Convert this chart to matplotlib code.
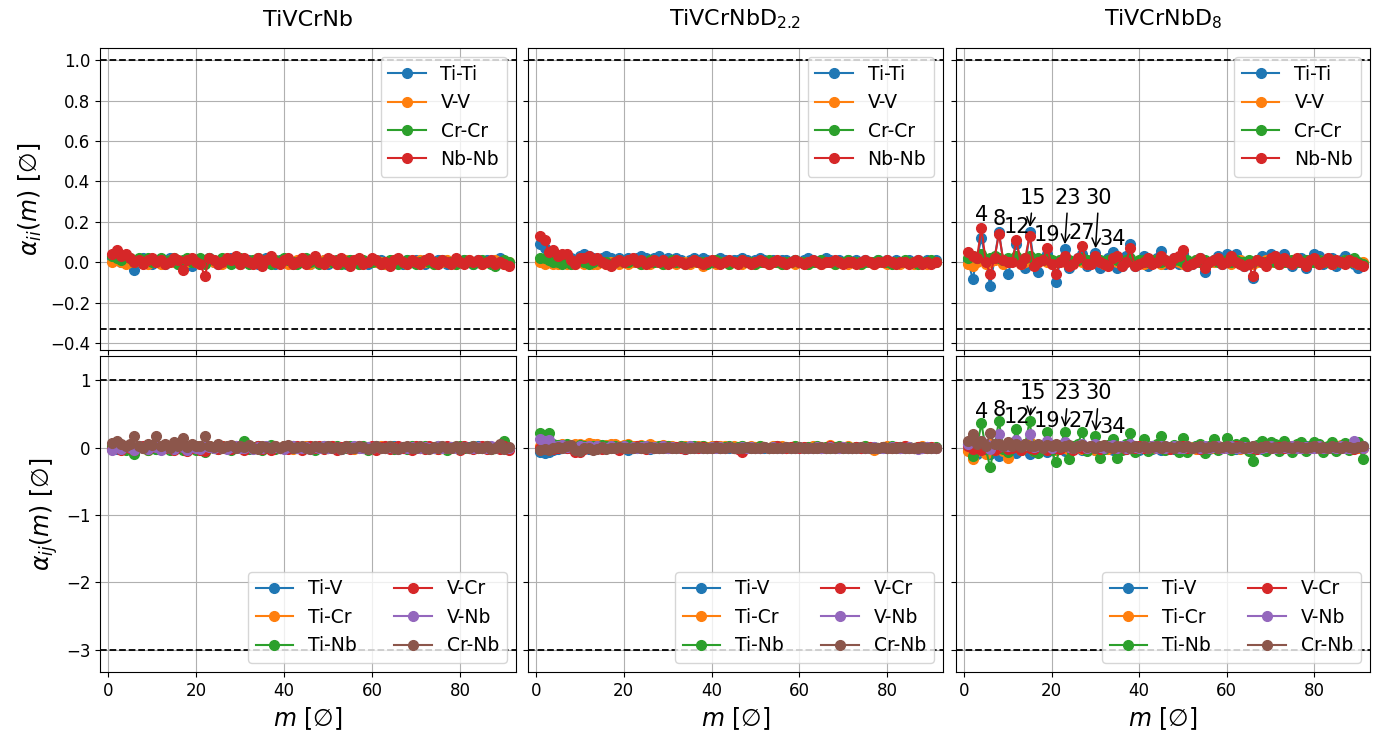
import matplotlib
matplotlib.use("Agg")
import matplotlib.pyplot as plt

# ---------------- data ----------------
m = list(range(1, 92))

titles = ["TiVCrNb", "TiVCrNbD$_{2.2}$", "TiVCrNbD$_{8}$"]
self_labels = ["Ti-Ti", "V-V", "Cr-Cr", "Nb-Nb"]
pair_labels = ["Ti-V", "Ti-Cr", "Ti-Nb", "V-Cr", "V-Nb", "Cr-Nb"]

# ---- TiVCrNb, alpha_ii ----
A_TiTi = [0.02, 0.01, 0.00, 0.01, 0.01, -0.04, 0.01, 0.02, 0.00, -0.01,
          0.01, 0.00, -0.01, 0.02, 0.01, -0.01, 0.00, 0.01, -0.02, 0.01,
          0.00, 0.01, 0.02, 0.00, -0.01, 0.01, 0.00, 0.02, 0.01, -0.01,
          0.00, 0.01, 0.00, -0.01, 0.01, 0.02, 0.00, -0.01, 0.01, 0.00,
          0.01, -0.01, 0.00, 0.01, 0.00, -0.01, 0.01, 0.00, 0.01, -0.01,
          0.00, 0.01, 0.00, -0.01, 0.01, 0.00, 0.01, 0.00, -0.01, 0.01,
          0.00, 0.01, -0.01, 0.00, 0.01, 0.00, -0.01, 0.01, 0.00, 0.01,
          0.00, -0.01, 0.01, 0.00, 0.01, 0.00, -0.01, 0.00, 0.01, 0.00,
          0.01, 0.00, -0.01, 0.01, 0.00, 0.01, 0.00, 0.01, 0.02, 0.00,
          -0.01]
A_VV = [0.00, 0.01, 0.00, -0.01, 0.00, 0.00, 0.01, 0.00, -0.01, 0.00,
        0.00, -0.01, 0.00, 0.01, 0.00, 0.00, -0.01, 0.00, 0.01, 0.00,
        -0.01, 0.00, 0.01, 0.00, 0.00, -0.01, 0.00, 0.01, 0.00, -0.01,
        0.00, 0.00, 0.01, 0.00, -0.01, 0.00, 0.00, 0.01, 0.00, 0.00,
        -0.01, 0.00, 0.01, 0.00, 0.00, -0.01, 0.00, 0.00, 0.01, 0.00,
        0.00, -0.01, 0.00, 0.01, 0.00, 0.00, -0.01, 0.00, 0.00, 0.01,
        0.00, 0.00, -0.01, 0.00, 0.01, 0.00, 0.00, -0.01, 0.00, 0.00,
        0.01, 0.00, 0.00, -0.01, 0.00, 0.00, 0.01, 0.00, -0.01, 0.00,
        0.00, 0.01, 0.00, 0.00, -0.01, 0.00, 0.00, 0.01, 0.00, -0.01,
        0.00]
A_CrCr = [0.03, 0.02, 0.01, 0.03, 0.02, 0.00, 0.02, 0.01, 0.02, 0.00,
          0.01, 0.02, 0.00, 0.01, 0.02, -0.01, 0.01, 0.02, 0.00, 0.01,
          0.02, -0.01, 0.02, 0.01, 0.00, 0.02, 0.01, -0.01, 0.01, 0.02,
          0.00, -0.01, 0.01, 0.02, 0.00, 0.01, -0.01, 0.01, 0.00, 0.02,
          0.01, 0.00, -0.01, 0.01, 0.02, 0.00, 0.01, -0.01, 0.00, 0.01,
          0.00, 0.01, -0.01, 0.00, 0.01, 0.00, -0.01, 0.01, 0.00, 0.00,
          0.01, -0.01, 0.00, 0.01, 0.00, -0.01, 0.00, 0.01, 0.00, -0.01,
          0.00, 0.01, 0.00, -0.01, 0.00, 0.01, 0.00, 0.00, -0.01, 0.00,
          0.01, 0.00, -0.01, 0.00, 0.01, 0.00, -0.01, -0.02, 0.00, 0.01,
          0.00]
A_NbNb = [0.04, 0.06, 0.03, 0.04, 0.02, 0.00, 0.01, -0.01, 0.01, 0.02,
          0.00, 0.01, -0.01, 0.00, 0.02, 0.01, -0.04, 0.01, 0.02, 0.00,
          -0.01, -0.07, 0.02, 0.01, -0.01, 0.00, 0.02, 0.01, 0.03, -0.01,
          0.02, 0.00, -0.01, 0.02, -0.02, 0.01, 0.03, 0.00, -0.01, 0.01,
          0.02, -0.01, 0.00, 0.02, -0.01, 0.01, 0.03, 0.00, -0.01, 0.02,
          0.01, -0.01, 0.02, 0.00, -0.02, 0.01, 0.02, -0.01, 0.00, 0.02,
          0.01, -0.01, 0.00, -0.02, 0.01, 0.02, 0.00, -0.01, 0.01, 0.00,
          -0.01, 0.01, 0.02, 0.00, -0.01, 0.01, 0.00, -0.01, 0.02, 0.00,
          -0.01, 0.01, 0.00, 0.01, -0.01, 0.00, 0.01, -0.01, 0.00, -0.01,
          -0.02]

# ---- TiVCrNbD2.2, alpha_ii ----
B_TiTi = [0.09, 0.07, 0.04, 0.03, 0.03, 0.02, 0.03, 0.02, 0.01, 0.03,
          0.04, 0.03, 0.02, 0.01, 0.02, 0.03, 0.02, 0.01, 0.02, 0.01,
          0.02, 0.01, 0.02, 0.03, 0.02, 0.01, 0.02, 0.03, 0.01, 0.02,
          0.01, 0.02, 0.01, 0.00, 0.01, 0.02, 0.01, 0.02, 0.01, 0.00,
          0.01, 0.02, 0.01, 0.00, 0.01, 0.01, 0.02, 0.01, 0.00, 0.01,
          0.02, 0.01, 0.00, 0.01, 0.00, 0.01, 0.01, 0.00, 0.01, 0.00,
          0.01, 0.02, 0.01, 0.00, 0.01, 0.02, 0.01, 0.00, 0.01, 0.00,
          0.01, 0.00, 0.01, 0.00, 0.01, 0.00, 0.00, 0.01, 0.00, 0.01,
          0.00, 0.01, 0.00, 0.00, 0.01, 0.00, 0.01, 0.00, 0.01, 0.00,
          0.01]
B_VV = [0.00, -0.01, 0.00, -0.01, -0.01, 0.00, -0.01, 0.00, -0.01, 0.00,
        -0.01, 0.00, -0.01, -0.01, 0.00, -0.01, 0.00, 0.00, -0.01, 0.00,
        -0.01, 0.00, 0.00, -0.01, 0.00, -0.01, 0.00, 0.00, -0.01, 0.00,
        0.00, -0.01, 0.00, 0.00, -0.01, 0.00, 0.00, -0.02, 0.00, 0.00,
        -0.01, 0.00, 0.00, -0.01, 0.00, 0.00, -0.01, 0.00, 0.00, -0.01,
        0.00, 0.00, -0.01, 0.00, 0.00, -0.01, 0.00, 0.00, -0.01, 0.00,
        0.00, -0.01, 0.00, 0.00, -0.01, 0.00, 0.00, -0.01, 0.00, 0.00,
        -0.01, 0.00, 0.00, -0.01, 0.00, 0.00, -0.01, 0.00, 0.00, -0.01,
        0.00, 0.00, -0.01, 0.00, 0.00, -0.01, 0.00, 0.00, -0.01, 0.00,
        0.00]
B_CrCr = [0.02, 0.02, 0.01, 0.00, 0.00, -0.01, 0.00, -0.01, 0.00, 0.01,
          0.00, -0.01, 0.00, 0.01, 0.00, 0.00, -0.01, 0.00, 0.01, 0.00,
          0.00, 0.01, 0.00, -0.01, 0.00, 0.01, 0.00, 0.00, -0.01, 0.00,
          0.01, 0.00, 0.00, -0.01, 0.00, 0.01, 0.00, 0.00, -0.01, 0.00,
          0.01, 0.00, 0.00, -0.01, 0.00, 0.00, 0.01, 0.00, 0.00, -0.01,
          0.00, 0.00, 0.01, 0.00, 0.00, -0.01, 0.00, 0.00, 0.01, 0.00,
          0.00, -0.01, 0.00, 0.00, 0.01, 0.00, 0.00, -0.01, 0.00, 0.00,
          0.01, 0.00, 0.00, -0.01, 0.00, 0.00, 0.00, 0.01, 0.00, 0.00,
          -0.01, 0.00, 0.00, 0.01, 0.00, 0.00, -0.01, 0.00, 0.00, 0.01,
          0.00]
B_NbNb = [0.13, 0.11, 0.05, 0.06, 0.03, 0.04, 0.04, 0.01, -0.01, 0.02,
          0.02, 0.03, 0.01, 0.02, 0.00, -0.01, -0.02, 0.00, 0.01, 0.00,
          0.01, 0.02, 0.00, 0.01, -0.01, 0.00, 0.01, 0.00, 0.01, -0.01,
          0.00, 0.01, 0.00, -0.01, 0.00, 0.01, 0.00, -0.01, 0.00, 0.01,
          0.00, -0.01, 0.00, 0.01, 0.00, -0.01, 0.01, 0.00, -0.01, 0.00,
          0.01, 0.00, -0.01, 0.00, 0.01, 0.00, -0.01, 0.00, 0.01, 0.00,
          -0.01, 0.00, 0.01, 0.00, -0.01, 0.00, 0.00, 0.01, 0.00, -0.01,
          0.00, 0.00, -0.01, 0.00, 0.01, 0.00, -0.01, 0.00, 0.00, 0.01,
          0.00, -0.01, 0.00, 0.00, -0.01, 0.00, 0.01, -0.01, 0.00, -0.01,
          0.00]

# ---- TiVCrNbD8, alpha_ii ----
C_TiTi = [0.01, -0.085, 0.02, 0.12, 0.01, -0.12, 0.02, 0.15, 0.00, -0.06,
          0.01, 0.09, 0.01, -0.03, 0.15, 0.00, -0.05, 0.01, 0.04, 0.00,
          -0.10, 0.01, 0.065, -0.03, 0.00, 0.02, 0.04, -0.02, 0.01, 0.045,
          -0.03, -0.01, 0.02, 0.05, -0.03, -0.02, 0.03, 0.09, -0.02, 0.00,
          0.03, -0.02, 0.00, 0.02, 0.055, -0.01, 0.00, 0.02, -0.01, 0.04,
          -0.02, -0.01, 0.01, 0.02, -0.05, 0.00, 0.01, 0.03, -0.01, 0.04,
          0.00, 0.04, 0.01, -0.02, 0.00, -0.08, 0.01, 0.03, -0.01, 0.04,
          0.03, -0.01, 0.04, 0.01, -0.02, 0.00, 0.02, -0.03, 0.01, 0.04,
          0.03, -0.01, 0.01, 0.02, -0.02, 0.01, 0.03, 0.00, -0.01, -0.03,
          -0.01]
C_VV = [-0.01, -0.02, 0.00, 0.02, -0.01, 0.00, 0.01, 0.02, -0.01, 0.00,
        0.01, 0.01, -0.01, 0.00, 0.02, -0.01, 0.00, 0.01, 0.00, -0.01,
        0.00, 0.01, 0.00, -0.01, 0.00, 0.01, 0.00, -0.01, 0.00, 0.01,
        0.00, -0.01, 0.00, 0.01, 0.00, -0.01, 0.00, 0.01, 0.00, 0.00,
        -0.01, 0.00, 0.01, 0.00, -0.01, 0.00, 0.00, 0.01, 0.00, -0.01,
        0.00, 0.00, 0.01, 0.00, -0.01, 0.00, 0.00, 0.01, 0.00, 0.00,
        -0.01, 0.00, 0.01, 0.00, 0.00, -0.01, 0.00, 0.00, 0.01, 0.00,
        0.00, -0.01, 0.00, 0.00, 0.01, 0.00, 0.00, -0.01, 0.00, 0.00,
        0.01, 0.00, 0.00, -0.01, 0.00, 0.00, 0.01, 0.00, 0.00, -0.01,
        0.00]
C_CrCr = [0.02, 0.03, 0.02, 0.04, 0.01, 0.02, 0.03, 0.02, 0.01, 0.02,
          0.01, 0.03, 0.01, 0.02, 0.03, 0.01, 0.02, 0.01, 0.02, 0.01,
          0.00, 0.01, 0.02, 0.01, 0.00, 0.01, 0.02, 0.01, 0.00, 0.01,
          0.01, 0.00, 0.01, 0.02, 0.01, 0.00, 0.01, 0.02, 0.00, 0.01,
          0.01, 0.00, 0.01, 0.01, 0.00, 0.01, 0.00, 0.01, 0.01, 0.00,
          0.01, 0.00, 0.01, 0.00, 0.01, 0.00, 0.01, 0.00, 0.00, 0.01,
          0.00, 0.01, 0.00, 0.00, 0.01, 0.00, 0.01, 0.00, 0.00, 0.01,
          0.00, 0.01, 0.00, 0.00, 0.01, 0.00, 0.00, 0.01, 0.00, 0.00,
          0.01, 0.00, 0.00, 0.01, 0.00, 0.00, 0.01, 0.00, 0.02, 0.00,
          -0.01]
C_NbNb = [0.05, 0.03, 0.02, 0.17, 0.00, -0.06, 0.02, 0.14, 0.01, 0.00,
          0.00, 0.11, -0.01, 0.02, 0.13, -0.02, 0.00, 0.01, 0.07, -0.01,
          -0.06, 0.00, 0.03, -0.02, -0.01, 0.02, 0.08, -0.01, -0.01, 0.03,
          0.00, -0.01, -0.02, 0.02, 0.03, -0.02, 0.00, 0.07, -0.02, -0.01,
          0.00, 0.02, -0.01, 0.00, 0.03, 0.01, -0.01, 0.02, 0.03, 0.06,
          -0.02, -0.01, 0.00, 0.02, -0.03, 0.00, 0.01, 0.02, -0.01, 0.00,
          0.03, 0.00, -0.01, -0.02, -0.01, -0.07, 0.01, 0.00, -0.02, 0.02,
          0.03, -0.01, 0.02, 0.00, -0.01, 0.02, 0.00, -0.02, 0.01, 0.02,
          -0.01, 0.00, 0.02, -0.01, 0.01, 0.00, -0.01, 0.01, 0.00, -0.01,
          -0.02]

# ---- TiVCrNb, alpha_ij ----
A_TiV = [0.00, -0.02, 0.01, 0.02, -0.01, 0.00, 0.02, -0.01, 0.01, 0.00,
         -0.02, 0.01, 0.00, 0.02, -0.01, 0.00, 0.01, -0.02, 0.00, 0.01,
         -0.01, 0.00, 0.02, 0.00, -0.01, 0.01, 0.00, -0.02, 0.01, 0.00,
         0.01, -0.01, 0.00, 0.02, 0.00, -0.01, 0.01, 0.00, -0.01, 0.01,
         0.00, 0.02, -0.01, 0.00, 0.01, -0.01, 0.00, 0.01, 0.00, -0.01,
         0.01, 0.00, -0.02, 0.01, 0.00, 0.01, -0.01, 0.00, 0.01, 0.00,
         -0.01, 0.01, 0.00, -0.01, 0.02, 0.00, -0.01, 0.01, 0.00, -0.01,
         0.01, 0.00, 0.01, -0.01, 0.00, 0.01, 0.00, -0.01, 0.01, 0.00,
         -0.01, 0.01, 0.00, 0.02, -0.01, 0.00, 0.01, -0.01, 0.00, 0.03,
         0.00]
A_TiCr = [-0.02, 0.01, -0.01, 0.03, 0.00, -0.02, 0.02, 0.00, -0.03, 0.01,
          0.02, -0.01, 0.00, 0.03, -0.02, 0.01, 0.00, -0.03, 0.02, 0.00,
          -0.01, -0.04, 0.02, 0.00, -0.01, 0.02, 0.00, -0.02, 0.01, 0.00,
          0.02, -0.01, 0.00, 0.01, -0.02, 0.00, 0.02, 0.00, -0.01, 0.01,
          0.00, -0.02, 0.01, 0.00, 0.02, -0.01, 0.00, 0.01, -0.01, 0.00,
          0.02, 0.00, -0.01, 0.01, 0.00, -0.02, 0.01, 0.00, 0.01, -0.01,
          0.00, 0.02, 0.00, -0.01, 0.01, 0.00, -0.01, 0.01, 0.00, 0.01,
          -0.01, 0.00, 0.01, 0.00, -0.02, 0.01, 0.00, 0.01, -0.01, 0.00,
          0.01, 0.00, -0.01, 0.01, 0.00, -0.01, 0.01, 0.00, 0.01, -0.01,
          0.00]
A_TiNb = [0.03, 0.02, -0.02, -0.03, 0.02, -0.10, 0.03, 0.01, -0.03, 0.02,
          -0.02, 0.01, 0.03, -0.04, 0.02, 0.00, -0.03, 0.02, 0.01, -0.04,
          0.02, -0.06, 0.03, 0.00, -0.02, 0.02, 0.01, -0.03, 0.02, 0.00,
          0.10, -0.02, 0.01, 0.02, -0.03, 0.01, 0.04, -0.02, 0.00, 0.02,
          -0.01, 0.03, 0.00, -0.02, 0.01, 0.03, -0.03, 0.00, 0.02, -0.01,
          0.01, 0.03, -0.02, 0.00, 0.02, -0.01, 0.01, 0.02, -0.03, 0.00,
          0.02, -0.01, 0.01, 0.02, -0.02, 0.00, 0.01, -0.02, 0.02, 0.00,
          -0.01, 0.02, 0.00, -0.01, 0.02, 0.00, -0.03, 0.01, 0.00, 0.02,
          -0.01, 0.00, 0.02, -0.01, 0.00, 0.02, -0.02, 0.00, 0.01, 0.10,
          -0.01]
A_VCr = [-0.02, 0.03, -0.04, 0.02, 0.00, -0.03, 0.02, 0.03, -0.02, 0.01,
         0.03, -0.02, 0.00, 0.02, -0.03, 0.01, 0.03, -0.05, 0.00, 0.02,
         -0.03, -0.05, 0.02, 0.01, -0.02, 0.03, 0.00, -0.02, 0.02, 0.01,
         -0.03, 0.02, 0.00, 0.03, -0.02, 0.01, -0.03, 0.02, 0.00, 0.03,
         -0.02, 0.01, 0.02, -0.03, 0.00, 0.02, -0.01, 0.03, -0.02, 0.00,
         0.02, -0.03, 0.01, 0.02, -0.02, 0.00, 0.03, -0.01, 0.00, 0.02,
         -0.03, 0.01, 0.02, -0.02, 0.00, 0.02, -0.01, 0.01, -0.03, 0.02,
         0.00, -0.02, 0.02, 0.01, -0.02, 0.00, 0.02, -0.01, 0.01, -0.03,
         0.02, 0.00, -0.02, 0.01, 0.02, -0.02, 0.00, 0.01, -0.02, 0.02,
         -0.03]
A_VNb = [-0.03, 0.04, -0.02, 0.03, 0.01, -0.04, 0.03, 0.00, -0.02, 0.03,
         0.01, -0.03, 0.02, 0.00, -0.02, 0.03, 0.01, -0.03, 0.02, 0.00,
         -0.02, 0.02, 0.01, -0.01, 0.02, 0.00, -0.02, 0.01, 0.02, -0.01,
         0.00, 0.02, -0.02, 0.01, 0.00, 0.02, -0.01, 0.01, 0.00, -0.02,
         0.01, 0.02, -0.01, 0.00, 0.01, -0.02, 0.01, 0.00, 0.02, -0.01,
         0.00, 0.01, -0.02, 0.01, 0.00, 0.02, -0.01, 0.00, 0.01, -0.01,
         0.02, 0.00, -0.01, 0.01, 0.00, -0.02, 0.01, 0.00, 0.01, -0.01,
         0.00, 0.01, 0.00, -0.01, 0.02, 0.00, -0.01, 0.01, 0.00, -0.01,
         0.01, 0.00, -0.01, 0.01, 0.00, -0.01, 0.02, 0.00, 0.04, -0.01,
         0.00]
A_CrNb = [0.07, 0.10, 0.06, 0.02, 0.06, 0.18, 0.03, 0.00, 0.05, 0.04,
          0.17, 0.02, 0.06, -0.01, 0.08, 0.03, 0.15, 0.01, 0.05, 0.03,
          0.02, 0.18, 0.02, 0.01, 0.05, 0.00, 0.03, 0.04, -0.01, 0.03,
          0.01, 0.04, 0.00, -0.02, 0.03, 0.01, -0.01, 0.03, 0.00, 0.02,
          0.04, -0.01, 0.01, 0.03, 0.00, -0.02, 0.02, 0.01, -0.01, 0.03,
          0.00, 0.01, -0.02, 0.02, 0.00, -0.01, 0.03, 0.01, -0.02, 0.00,
          0.02, -0.01, 0.00, 0.03, 0.00, -0.02, 0.01, 0.02, -0.01, 0.00,
          0.02, 0.00, -0.02, 0.01, 0.00, 0.02, -0.01, 0.00, 0.02, -0.02,
          0.01, 0.00, 0.02, -0.01, 0.00, 0.03, -0.02, 0.00, 0.05, -0.02,
          0.01]

# ---- TiVCrNbD2.2, alpha_ij ----
B_TiV = [-0.07, -0.08, -0.06, -0.03, -0.02, 0.00, -0.01, 0.02, -0.02, 0.00,
         0.01, -0.02, 0.00, 0.01, -0.01, 0.00, 0.01, -0.01, -0.02, 0.00,
         -0.04, 0.00, 0.01, -0.01, 0.00, -0.02, 0.01, 0.00, -0.01, 0.00,
         0.01, -0.01, 0.00, -0.02, 0.00, 0.01, -0.01, 0.00, 0.00, -0.01,
         0.01, 0.00, -0.01, 0.00, 0.01, -0.01, 0.00, 0.00, -0.01, 0.01,
         0.00, -0.01, 0.00, 0.01, -0.01, 0.00, 0.00, -0.01, 0.01, 0.00,
         -0.01, 0.00, 0.01, -0.01, 0.00, 0.00, -0.01, 0.00, 0.01, 0.00,
         -0.01, 0.00, 0.00, -0.01, 0.01, 0.00, -0.01, 0.00, 0.00, -0.01,
         0.00, 0.01, 0.00, -0.01, 0.00, 0.00, -0.01, 0.00, 0.01, 0.00,
         -0.01]
B_TiCr = [0.02, 0.03, 0.02, 0.04, 0.04, 0.05, 0.04, 0.03, 0.05, 0.06,
          0.04, 0.07, 0.06, 0.05, 0.03, 0.04, 0.06, 0.05, 0.03, 0.04,
          0.05, 0.03, 0.02, 0.04, 0.03, 0.05, 0.02, 0.03, 0.04, 0.02,
          0.03, 0.01, 0.02, 0.03, 0.02, 0.01, 0.02, 0.03, 0.01, 0.02,
          0.01, 0.02, 0.03, 0.01, 0.02, 0.01, 0.02, 0.00, 0.02, 0.01,
          0.02, 0.01, 0.00, 0.02, 0.01, 0.02, 0.00, 0.01, 0.02, 0.01,
          0.00, 0.01, 0.02, 0.01, 0.00, 0.01, 0.04, 0.01, 0.00, 0.01,
          0.02, 0.00, 0.01, 0.00, 0.02, 0.01, -0.04, 0.00, 0.01, 0.02,
          0.00, 0.01, 0.00, 0.02, 0.01, 0.00, 0.01, 0.02, 0.00, 0.01,
          0.00]
B_TiNb = [0.22, 0.18, 0.22, 0.05, 0.04, 0.02, 0.06, 0.03, 0.01, 0.04,
          0.02, 0.00, 0.03, 0.01, 0.04, 0.02, 0.00, 0.03, 0.01, 0.02,
          0.04, 0.01, 0.00, 0.02, 0.03, 0.01, 0.00, 0.02, 0.01, 0.03,
          0.01, 0.00, 0.02, 0.01, 0.00, 0.02, 0.01, 0.03, 0.00, 0.01,
          0.02, 0.00, 0.01, 0.02, 0.00, 0.01, 0.02, 0.00, 0.01, 0.00,
          0.02, 0.01, 0.00, 0.01, 0.02, 0.00, 0.01, 0.00, 0.02, 0.01,
          0.00, 0.01, 0.00, 0.02, 0.00, 0.01, 0.00, 0.01, 0.02, 0.00,
          0.01, 0.00, 0.01, 0.00, 0.02, 0.00, 0.01, 0.00, 0.01, 0.00,
          0.02, 0.00, 0.01, 0.00, 0.01, 0.00, 0.01, 0.00, 0.01, 0.00,
          0.01]
B_VCr = [0.00, -0.01, 0.01, -0.02, 0.00, 0.01, -0.01, 0.00, -0.06, -0.07,
         -0.02, 0.00, -0.01, 0.01, -0.02, 0.00, 0.01, -0.01, -0.03, 0.01,
         0.00, -0.01, 0.02, 0.00, -0.02, 0.01, 0.00, -0.01, 0.02, 0.00,
         -0.01, 0.01, 0.00, -0.02, 0.01, 0.00, -0.01, 0.01, 0.00, -0.01,
         0.02, 0.00, -0.01, 0.01, 0.00, -0.02, -0.06, 0.00, 0.01, -0.01,
         0.00, 0.01, -0.01, 0.00, 0.02, -0.01, 0.00, 0.01, -0.01, 0.00,
         0.01, -0.01, 0.00, 0.01, -0.01, 0.00, 0.02, -0.01, 0.00, 0.01,
         -0.01, 0.00, 0.01, 0.00, -0.01, 0.01, 0.00, -0.01, 0.01, 0.00,
         -0.01, 0.01, 0.00, 0.02, -0.01, 0.00, 0.01, -0.01, 0.00, 0.01,
         -0.01]
B_VNb = [0.13, 0.10, 0.11, 0.03, 0.02, 0.04, 0.01, 0.03, 0.00, 0.02,
         0.01, 0.03, 0.00, 0.02, 0.01, -0.01, 0.02, 0.00, 0.01, 0.02,
         0.00, 0.01, -0.01, 0.01, 0.02, 0.00, 0.01, 0.00, 0.02, 0.00,
         0.01, -0.01, 0.01, 0.00, 0.02, 0.00, 0.01, 0.00, -0.01, 0.01,
         0.00, 0.01, 0.00, 0.01, -0.01, 0.00, 0.01, 0.00, 0.01, 0.00,
         -0.01, 0.01, 0.00, 0.01, 0.00, -0.01, 0.01, 0.00, 0.00, 0.01,
         0.00, -0.01, 0.00, 0.01, 0.00, 0.00, 0.01, -0.01, 0.00, 0.01,
         0.00, 0.00, -0.01, 0.01, 0.00, 0.00, 0.01, 0.00, -0.01, 0.00,
         0.01, 0.00, 0.00, -0.01, 0.01, 0.00, -0.02, 0.00, 0.01, 0.00,
         0.00]
B_CrNb = [-0.03, -0.02, -0.04, 0.00, 0.01, -0.01, 0.03, 0.04, -0.03, -0.05,
          -0.01, 0.00, -0.03, -0.02, 0.01, -0.02, 0.00, -0.01, 0.01, 0.00,
          -0.01, 0.00, 0.01, -0.01, 0.00, 0.01, -0.01, 0.00, 0.00, 0.01,
          -0.01, 0.00, 0.01, 0.00, -0.01, 0.00, 0.01, -0.01, 0.00, 0.00,
          0.01, -0.01, 0.00, 0.01, 0.00, -0.01, 0.00, 0.01, 0.00, -0.01,
          0.00, 0.01, 0.00, -0.01, 0.00, 0.00, 0.01, -0.01, 0.00, 0.01,
          0.00, -0.01, 0.00, 0.00, 0.01, 0.00, -0.01, 0.00, 0.01, 0.00,
          0.00, -0.01, 0.00, 0.01, 0.00, -0.01, 0.00, 0.00, 0.01, 0.00,
          -0.01, 0.00, 0.01, 0.00, -0.01, 0.00, 0.00, 0.01, 0.00, -0.01,
          0.00]

# ---- TiVCrNbD8, alpha_ij ----
C_TiV = [-0.04, -0.08, -0.10, 0.06, -0.05, -0.10, 0.03, -0.12, 0.02, -0.06,
         0.01, -0.08, 0.02, 0.04, -0.09, 0.01, -0.03, 0.02, -0.06, 0.01,
         0.03, -0.02, -0.05, 0.02, -0.01, 0.03, -0.04, 0.01, 0.02, -0.03,
         0.01, -0.02, 0.03, -0.03, 0.00, 0.02, -0.02, 0.01, 0.02, -0.03,
         0.00, 0.02, -0.02, 0.01, -0.03, 0.02, 0.00, -0.02, 0.01, 0.02,
         -0.02, 0.00, 0.02, -0.01, 0.01, -0.02, 0.02, 0.00, -0.01, 0.02,
         0.00, -0.02, 0.01, 0.02, -0.01, 0.00, 0.02, -0.02, 0.01, 0.00,
         0.02, -0.01, 0.00, 0.01, -0.02, 0.01, 0.00, 0.02, -0.01, 0.00,
         0.01, -0.02, 0.01, 0.00, 0.02, -0.01, 0.00, 0.01, -0.01, 0.02,
         0.03]
C_TiCr = [-0.05, -0.17, -0.05, 0.05, -0.10, 0.05, -0.03, 0.02, -0.05, -0.15,
          0.02, 0.06, -0.04, 0.01, 0.08, -0.05, 0.00, 0.03, -0.02, 0.01,
          -0.04, 0.02, 0.00, -0.03, 0.01, 0.03, -0.02, 0.00, 0.02, -0.03,
          0.01, 0.00, -0.02, 0.02, 0.00, -0.01, 0.02, 0.00, -0.02, 0.01,
          0.00, 0.02, -0.01, 0.00, 0.01, -0.02, 0.01, 0.00, 0.02, -0.01,
          0.00, 0.01, -0.02, 0.00, 0.01, 0.00, -0.01, 0.02, 0.00, -0.01,
          0.01, 0.00, -0.02, 0.01, 0.00, -0.03, 0.01, 0.00, -0.01, 0.01,
          0.00, 0.02, -0.01, 0.00, 0.01, -0.01, 0.00, 0.01, 0.00, -0.01,
          0.01, 0.00, -0.01, 0.01, 0.00, 0.04, -0.01, 0.00, 0.01, 0.00,
          -0.01]
C_TiNb = [0.05, -0.12, 0.02, 0.36, -0.02, -0.29, 0.03, 0.39, -0.02, -0.06,
          0.02, 0.28, -0.03, 0.05, 0.39, -0.05, -0.08, 0.02, 0.23, -0.03,
          -0.22, 0.01, 0.23, -0.17, 0.02, 0.05, 0.23, -0.05, 0.01, 0.17,
          -0.15, -0.02, 0.04, 0.13, -0.15, -0.03, 0.05, 0.22, -0.06, 0.00,
          0.13, -0.05, 0.02, 0.05, 0.17, -0.04, 0.00, 0.04, -0.06, 0.15,
          -0.07, 0.00, 0.03, 0.06, -0.08, 0.02, 0.13, -0.03, 0.00, 0.15,
          -0.04, 0.05, 0.02, 0.09, -0.05, -0.20, 0.04, 0.10, -0.05, 0.09,
          0.06, -0.05, 0.10, 0.02, -0.06, 0.05, 0.09, -0.05, 0.02, 0.09,
          0.05, -0.06, 0.03, 0.08, -0.05, 0.03, 0.07, -0.04, 0.02, 0.09,
          -0.17]
C_VCr = [0.03, -0.02, 0.04, -0.03, 0.02, 0.03, -0.04, 0.01, 0.03, -0.02,
         0.00, 0.03, -0.03, 0.02, 0.00, -0.02, 0.03, 0.01, -0.03, 0.02,
         0.00, -0.02, 0.02, 0.01, -0.03, 0.02, 0.00, -0.01, 0.02, 0.00,
         -0.02, 0.01, 0.02, -0.01, 0.00, 0.02, -0.02, 0.01, 0.00, 0.02,
         -0.01, 0.00, 0.02, -0.01, 0.01, 0.00, -0.02, 0.01, 0.00, 0.02,
         -0.01, 0.00, 0.01, -0.02, 0.01, 0.00, 0.02, -0.01, 0.00, 0.01,
         -0.01, 0.02, 0.00, -0.01, 0.01, 0.00, -0.02, 0.01, 0.02, 0.00,
         -0.01, 0.01, 0.00, -0.01, 0.02, 0.00, -0.01, 0.01, 0.00, -0.01,
         0.02, 0.00, -0.01, 0.01, 0.00, -0.01, 0.01, 0.00, -0.02, 0.01,
         0.00]
C_VNb = [0.05, 0.13, 0.08, 0.10, 0.05, -0.02, 0.06, 0.20, 0.03, 0.02,
         0.05, 0.12, 0.02, 0.04, 0.20, 0.01, 0.03, 0.02, 0.10, 0.00,
         0.02, 0.04, 0.08, 0.01, -0.01, 0.03, 0.06, 0.00, 0.02, 0.05,
         0.01, -0.01, 0.02, 0.04, 0.00, 0.02, -0.01, 0.05, 0.01, 0.00,
         0.02, -0.01, 0.03, 0.00, 0.02, -0.01, 0.01, 0.03, 0.00, -0.01,
         0.02, 0.00, 0.01, -0.01, 0.02, 0.00, 0.01, 0.02, -0.01, 0.00,
         0.02, 0.00, -0.01, 0.01, 0.00, 0.02, -0.01, 0.00, 0.01, 0.02,
         0.00, -0.01, 0.01, 0.00, 0.02, -0.01, 0.00, 0.01, 0.00, -0.01,
         0.02, 0.00, -0.01, 0.01, 0.00, 0.02, -0.01, 0.00, 0.10, 0.01,
         -0.01]
C_CrNb = [0.10, 0.20, 0.05, 0.10, 0.02, 0.21, 0.05, 0.05, 0.02, 0.08,
          0.03, 0.05, 0.01, 0.06, 0.03, 0.02, 0.05, 0.00, 0.04, 0.02,
          0.05, 0.01, 0.03, 0.04, 0.00, 0.02, 0.04, 0.01, 0.03, 0.00,
          0.02, 0.04, 0.01, 0.00, 0.03, 0.01, 0.02, 0.00, 0.03, 0.01,
          0.02, 0.00, 0.01, 0.03, 0.00, 0.02, 0.01, 0.00, 0.02, 0.01,
          0.03, 0.00, 0.01, 0.02, 0.00, 0.01, 0.02, 0.00, 0.01, 0.02,
          0.00, 0.01, 0.02, 0.00, 0.01, 0.03, 0.00, 0.01, 0.02, 0.00,
          0.01, 0.00, 0.02, 0.01, 0.00, 0.02, 0.01, 0.00, 0.01, 0.02,
          0.00, 0.01, 0.00, 0.02, 0.01, 0.00, 0.02, 0.01, 0.00, 0.01,
          0.02]

self_data = [[A_TiTi, A_VV, A_CrCr, A_NbNb],
             [B_TiTi, B_VV, B_CrCr, B_NbNb],
             [C_TiTi, C_VV, C_CrCr, C_NbNb]]
pair_data = [[A_TiV, A_TiCr, A_TiNb, A_VCr, A_VNb, A_CrNb],
             [B_TiV, B_TiCr, B_TiNb, B_VCr, B_VNb, B_CrNb],
             [C_TiV, C_TiCr, C_TiNb, C_VCr, C_VNb, C_CrNb]]

# annotated shells in the D8 panels (m values); those with arrows
shell_m = [4, 8, 12, 15, 19, 23, 27, 30, 34]
arrow_m = [15, 23, 30]

# reference (limit) lines
self_limits = [1.0, -1.0 / 3.0]
pair_limits = [1.0, -3.0]

# ---------------- figure ----------------
W, H = 1378, 731
fig = plt.figure(figsize=(W / 100, H / 100), dpi=100)

cols = [(100, 516), (528, 943), (956, 1370)]
rows = [(48, 350), (356, 672)]


def px_axes(x0, x1, y0, y1):
    return fig.add_axes([x0 / W, 1 - y1 / H, (x1 - x0) / W, (y1 - y0) / H])


colors = plt.rcParams['axes.prop_cycle'].by_key()['color']
mk = dict(marker='o', markersize=7, linewidth=1.5)
LEG_FS = 13.5
ANN_FS = 15

for c in range(3):
    # top row: alpha_ii
    ax = px_axes(cols[c][0], cols[c][1], rows[0][0], rows[0][1])
    for k, (lab, ys) in enumerate(zip(self_labels, self_data[c])):
        ax.plot(m, ys, color=colors[k], label=lab, **mk)
    for yl in self_limits:
        ax.axhline(yl, color='black', linestyle='--', linewidth=1.3)
    ax.set_ylim(-0.435, 1.06)
    ax.set_xlim(-1.8, 92.7)
    ax.set_yticks([-0.4, -0.2, 0.0, 0.2, 0.4, 0.6, 0.8, 1.0])
    ax.set_xticks([0, 20, 40, 60, 80])
    ax.tick_params(labelbottom=False, labelsize=12)
    ax.grid(True)
    ax.set_axisbelow(True)
    ax.set_title(titles[c], fontsize=16, pad=16)
    ax.legend(loc='upper right', fontsize=LEG_FS)
    if c == 0:
        ax.set_ylabel(r'$\alpha_{ii}(m)$ [$\varnothing$]', fontsize=17)
    else:
        ax.tick_params(labelleft=False)
    if c == 2:
        for mm in shell_m:
            peak = max(s[mm - 1] for s in self_data[c])
            if mm in arrow_m:
                ax.annotate(str(mm), xy=(mm, peak + 0.01), xytext=(mm + 0.8, 0.27),
                            ha='center', va='bottom', fontsize=ANN_FS,
                            arrowprops=dict(arrowstyle='->', color='black', lw=1.1))
            else:
                ax.annotate(str(mm), xy=(mm, peak), xytext=(0, 2),
                            textcoords='offset points', ha='center', va='bottom',
                            fontsize=ANN_FS)

    # bottom row: alpha_ij
    ax = px_axes(cols[c][0], cols[c][1], rows[1][0], rows[1][1])
    for k, (lab, ys) in enumerate(zip(pair_labels, pair_data[c])):
        ax.plot(m, ys, color=colors[k], label=lab, **mk)
    for yl in pair_limits:
        ax.axhline(yl, color='black', linestyle='--', linewidth=1.3)
    ax.set_ylim(-3.33, 1.36)
    ax.set_xlim(-1.8, 92.7)
    ax.set_yticks([-3, -2, -1, 0, 1])
    ax.set_xticks([0, 20, 40, 60, 80])
    ax.tick_params(labelsize=12)
    ax.grid(True)
    ax.set_axisbelow(True)
    ax.set_xlabel(r'$m$ [$\varnothing$]', fontsize=17)
    ax.legend(loc='lower right', ncol=2, fontsize=LEG_FS)
    if c == 0:
        ax.set_ylabel(r'$\alpha_{ij}(m)$ [$\varnothing$]', fontsize=17)
    else:
        ax.tick_params(labelleft=False)
    if c == 2:
        for mm in shell_m:
            peak = max(s[mm - 1] for s in pair_data[c])
            if mm in arrow_m:
                ax.annotate(str(mm), xy=(mm, peak + 0.03), xytext=(mm + 0.8, 0.66),
                            ha='center', va='bottom', fontsize=ANN_FS,
                            arrowprops=dict(arrowstyle='->', color='black', lw=1.1))
            else:
                ax.annotate(str(mm), xy=(mm, peak), xytext=(0, 1),
                            textcoords='offset points', ha='center', va='bottom',
                            fontsize=ANN_FS)

fig.savefig('out.png', dpi=100)
